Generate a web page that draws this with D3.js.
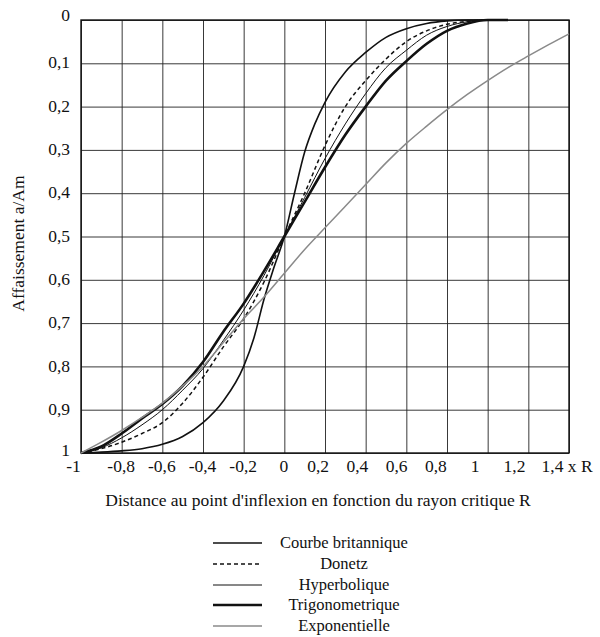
<!DOCTYPE html>
<html>
<head>
<meta charset="utf-8">
<script src="https://cdn.jsdelivr.net/npm/d3@7"></script>
<style>
body { margin: 0; background: #fff; }
text { font-family: "Liberation Serif", "Times New Roman", serif; fill: #111; }
</style>
</head>
<body>
<div id="chart"></div>
<script>
// Values (x in units of R, y = a/Am)
var xGrid = [-1, -0.9, -0.8, -0.7, -0.6, -0.5, -0.4, -0.3, -0.2, -0.1, 0, 0.1, 0.2, 0.3, 0.4, 0.5, 0.6, 0.7, 0.8, 0.9, 1, 1.1];
var donetz = [1, 0.99, 0.975, 0.955, 0.93, 0.885, 0.825, 0.755, 0.69, 0.605, 0.5, 0.4, 0.29, 0.2, 0.14, 0.09, 0.05, 0.025, 0.01, 0.003, 0, 0];
var hyperbolique = [1, 0.988, 0.965, 0.935, 0.9, 0.855, 0.805, 0.74, 0.67, 0.59, 0.5, 0.41, 0.32, 0.24, 0.17, 0.11, 0.07, 0.035, 0.015, 0.004, 0, 0];
var trigonometrique = [1, 0.985, 0.955, 0.92, 0.887, 0.845, 0.79, 0.72, 0.655, 0.58, 0.5, 0.42, 0.34, 0.265, 0.2, 0.14, 0.095, 0.055, 0.025, 0.008, 0, 0];

var xBritannique = [-1, -0.9, -0.8, -0.7, -0.6, -0.5, -0.4, -0.3, -0.2, -0.15, -0.1, -0.05, 0, 0.05, 0.1, 0.15, 0.2, 0.3, 0.4, 0.5, 0.6, 0.7, 0.8, 0.9, 1, 1.1];
var britannique = [1, 0.998, 0.995, 0.99, 0.98, 0.962, 0.93, 0.88, 0.8, 0.735, 0.645, 0.57, 0.5, 0.4, 0.305, 0.24, 0.19, 0.12, 0.075, 0.04, 0.02, 0.008, 0.002, 0, 0, 0];

var xExpo = [-1, -0.9, -0.8, -0.7, -0.6, -0.5, -0.4, -0.3, -0.2, -0.1, 0, 0.1, 0.2, 0.3, 0.4, 0.5, 0.6, 0.7, 0.8, 0.9, 1, 1.1, 1.2, 1.3, 1.4];
var exponentielle = [1, 0.975, 0.948, 0.918, 0.885, 0.845, 0.8, 0.745, 0.69, 0.64, 0.585, 0.53, 0.48, 0.43, 0.38, 0.33, 0.285, 0.245, 0.207, 0.172, 0.14, 0.11, 0.083, 0.057, 0.032];

var xTicks = [-1, -0.8, -0.6, -0.4, -0.2, 0, 0.2, 0.4, 0.6, 0.8, 1, 1.2, 1.4];
var yTicks = [0, 0.1, 0.2, 0.3, 0.4, 0.5, 0.6, 0.7, 0.8, 0.9, 1];

var seriesNames = ['Courbe britannique', 'Donetz', 'Hyperbolique', 'Trigonometrique', 'Exponentielle'];

// Build the series table
var zip = function(xs, ys) { return xs.map(function(x, i) { return { x: x, y: ys[i] }; }); };
var series = [
    { name: seriesNames[0], values: zip(xBritannique, britannique), stroke: '#111', width: 1.6, dash: null },
    { name: seriesNames[1], values: zip(xGrid, donetz), stroke: '#111', width: 1.5, dash: '4,3' },
    { name: seriesNames[2], values: zip(xGrid, hyperbolique), stroke: '#111', width: 1, dash: null },
    { name: seriesNames[3], values: zip(xGrid, trigonometrique), stroke: '#111', width: 2.6, dash: null },
    { name: seriesNames[4], values: zip(xExpo, exponentielle), stroke: '#8a8a8a', width: 1.5, dash: null }
];

var width = 600,
    height = 637,
    fontSize = 17.5,
    margin = { left: 81, top: 20, right: 31, bottom: 184 };
var chartWidth = width - margin.left - margin.right;
var chartHeight = height - margin.top - margin.bottom;

var fr = d3.formatLocale({ decimal: ',', thousands: ' ', grouping: [3], currency: ['', ''], minus: '-' });
var fmt = fr.format('~g');

var xScale = d3.scaleLinear().domain([-1, 1.4]).range([0, chartWidth]);
var yScale = d3.scaleLinear().domain([0, 1]).range([0, chartHeight]);

var svg = d3.select('#chart').append('svg')
    .attr('width', width)
    .attr('height', height)
    .attr('viewBox', '0 0 ' + width + ' ' + height);

var g = svg.append('g')
    .attr('transform', 'translate(' + margin.left + ',' + margin.top + ')');

// Grid via axes
var last = xTicks.length - 1;
var xAxis = d3.axisBottom(xScale).tickValues(xTicks).tickSize(-chartHeight)
    .tickFormat(function(d, i) { return i === last ? fmt(d) + ' x R' : fmt(d); });
var yAxis = d3.axisLeft(yScale).tickValues(yTicks).tickSize(-chartWidth).tickFormat(fmt);

var gx = g.append('g').attr('class', 'axis x')
    .attr('transform', 'translate(0,' + chartHeight + ')')
    .call(xAxis);
gx.select('.domain').remove();
gx.selectAll('.tick line').attr('stroke', '#222').attr('stroke-width', 0.9);
// labels in the scan sit a little left of their grid line, more so on the right side
gx.selectAll('.tick text')
    .attr('font-size', fontSize)
    .attr('y', 7)
    .attr('x', function(d, i) {
        if (i === last) return -28;
        if (d === -1) return -8;
        return d <= 0 ? -1 : -6 - 7 * d;
    })
    .attr('text-anchor', function(d, i) { return i === last ? 'start' : 'middle'; });

var gy = g.append('g').attr('class', 'axis y').call(yAxis);
gy.select('.domain').remove();
gy.selectAll('.tick line').attr('stroke', '#222').attr('stroke-width', 0.9);
gy.selectAll('.tick text')
    .attr('font-size', fontSize)
    .attr('x', -11)
    .attr('y', function(d, i) { return i === 0 ? -5 : (i === yTicks.length - 1 ? -3 : -1); });

// Frame
g.append('rect')
    .attr('width', chartWidth)
    .attr('height', chartHeight)
    .attr('fill', 'none')
    .attr('stroke', '#111')
    .attr('stroke-width', 1.4);

// Curves
var line = d3.line()
    .x(function(d) { return xScale(d.x); })
    .y(function(d) { return yScale(d.y); })
    .curve(d3.curveMonotoneX);

g.selectAll('.curve')
    .data(series)
    .enter().append('path')
    .attr('class', 'curve')
    .attr('fill', 'none')
    .attr('stroke', function(d) { return d.stroke; })
    .attr('stroke-width', function(d) { return d.width; })
    .attr('stroke-dasharray', function(d) { return d.dash; })
    .attr('d', function(d) { return line(d.values); });

// Axis titles
svg.append('text')
    .attr('x', 318)
    .attr('y', margin.top + chartHeight + 53)
    .attr('text-anchor', 'middle')
    .attr('font-size', fontSize)
    .text("Distance au point d'inflexion en fonction du rayon critique R");

svg.append('text')
    .attr('transform', 'translate(24,' + (margin.top + chartHeight / 2 + 7) + ') rotate(-90)')
    .attr('text-anchor', 'middle')
    .attr('font-size', fontSize)
    .text('Affaissement a/Am');

// Legend
var legendY = [543, 564, 585, 605, 626];
var legend = svg.selectAll('.legend')
    .data(series)
    .enter().append('g')
    .attr('class', 'legend')
    .attr('transform', function(d, i) { return 'translate(0,' + legendY[i] + ')'; });

legend.append('line')
    .attr('x1', 213)
    .attr('x2', 262)
    .attr('stroke', function(d) { return d.stroke; })
    .attr('stroke-width', function(d) { return d.width; })
    .attr('stroke-dasharray', function(d) { return d.dash; });

legend.append('text')
    .attr('x', 344)
    .attr('dy', '.32em')
    .attr('text-anchor', 'middle')
    .attr('font-size', 16.5)
    .text(function(d) { return d.name; });
</script>
</body>
</html>
